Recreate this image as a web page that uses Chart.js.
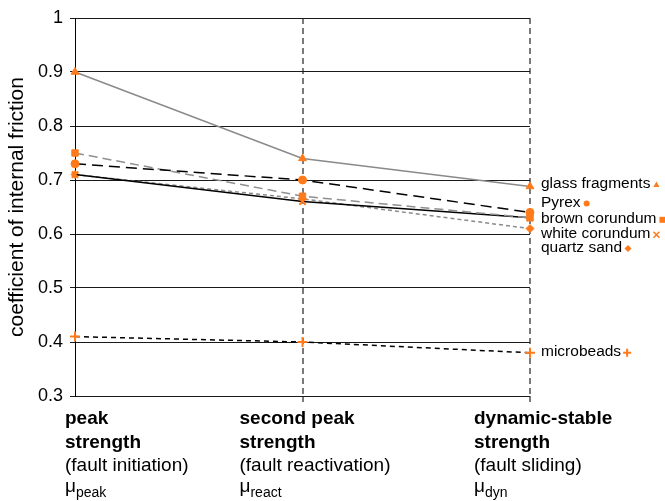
<!DOCTYPE html>
<html>
<head>
<meta charset="utf-8">
<script src="https://cdn.jsdelivr.net/npm/chart.js@4/dist/chart.umd.min.js"></script>
<style>
  html, body { margin: 0; padding: 0; background: #fff; }
  canvas { display: block; }
</style>
</head>
<body>
<canvas id="c" width="665" height="501"></canvas>
<script>
// Strength stages along the x axis
const categories = ['peak', 'react', 'dyn'];
const stageTitles = [['peak', 'strength'], ['second peak', 'strength'], ['dynamic-stable', 'strength']];
const stageNotes = ['(fault initiation)', '(fault reactivation)', '(fault sliding)'];
const stageSubscripts = ['peak', 'react', 'dyn'];

// Coefficient of internal friction per material
const glassFragments = [0.90, 0.74, 0.688];
const pyrex          = [0.73, 0.70, 0.64];
const brownCorundum  = [0.75, 0.67, 0.63];
const whiteCorundum  = [0.71, 0.66, 0.63];
const quartzSand     = [0.71, 0.665, 0.61];
const microbeads     = [0.41, 0.40, 0.38];

const yTicks = [0.3, 0.4, 0.5, 0.6, 0.7, 0.8, 0.9, 1];

const ORANGE = '#ff7a1a';
const FONT = '"Liberation Sans", Arial, sans-serif';

function series(label, data, color, dash, marker, radius, labelShift) {
  return {
    label, data,
    borderColor: color,
    borderWidth: 1.5,
    borderDash: dash,
    pointStyle: marker,
    pointRadius: radius,
    pointBackgroundColor: ORANGE,
    pointBorderColor: ORANGE,
    pointBorderWidth: marker === 'crossRot' || marker === 'cross' ? 2 : 1,
    fill: false,
    tension: 0,
    labelShift
  };
}

const datasets = [
  series('glass fragments', glassFragments, '#8a8a8a', [], 'triangle', 4.5, -3),
  series('Pyrex', pyrex, '#000000', [11, 6], 'circle', 4, -10),
  series('brown corundum', brownCorundum, '#8f8f8f', [9, 5], 'rect', 4.5, 1),
  series('white corundum', whiteCorundum, '#000000', [], 'crossRot', 4.5, 16),
  series('quartz sand', quartzSand, '#8a8a8a', [4, 3], 'rectRot', 4, 19),
  series('microbeads', microbeads, '#000000', [5, 4], 'cross', 5, -1)
];

// End-of-line labels with a small marker after the text
const endLabels = {
  id: 'endLabels',
  afterDatasetsDraw(chart) {
    const ctx = chart.ctx;
    const x = chart.chartArea.right + 11;
    const y = chart.scales.y;
    chart.data.datasets.forEach(ds => {
      ctx.save();
      ctx.font = '15.5px ' + FONT;
      ctx.textBaseline = 'middle';
      ctx.textAlign = 'left';
      const last = ds.data[ds.data.length - 1];
      const py = y.getPixelForValue(last) + ds.labelShift;
      ctx.fillStyle = '#000';
      ctx.fillText(ds.label, x, py);
      const w = ctx.measureText(ds.label).width;
      const mx = x + w + 6;
      const my = py + 1;
      ctx.fillStyle = ORANGE;
      ctx.strokeStyle = ORANGE;
      ctx.lineWidth = 1.6;
      const s = 3;
      ctx.beginPath();
      switch (ds.pointStyle) {
        case 'triangle':
          ctx.moveTo(mx, my - s); ctx.lineTo(mx + s, my + s * 0.8); ctx.lineTo(mx - s, my + s * 0.8); ctx.closePath(); ctx.fill(); break;
        case 'circle':
          ctx.arc(mx, my, s, 0, Math.PI * 2); ctx.fill(); break;
        case 'rect':
          ctx.rect(mx - s, my - s, 2 * s, 2 * s); ctx.fill(); break;
        case 'crossRot':
          ctx.moveTo(mx - s, my - s); ctx.lineTo(mx + s, my + s); ctx.moveTo(mx + s, my - s); ctx.lineTo(mx - s, my + s); ctx.stroke(); break;
        case 'rectRot':
          ctx.moveTo(mx, my - s - 0.5); ctx.lineTo(mx + s + 0.5, my); ctx.lineTo(mx, my + s + 0.5); ctx.lineTo(mx - s - 0.5, my); ctx.closePath(); ctx.fill(); break;
        case 'cross':
          ctx.lineWidth = 2;
          ctx.moveTo(mx - s - 1, my); ctx.lineTo(mx + s + 1, my); ctx.moveTo(mx, my - s - 1); ctx.lineTo(mx, my + s + 1); ctx.stroke(); break;
      }
      ctx.restore();
    });
  }
};

// Stage captions under the x axis: bold title, note, and μ with subscript
const stageLabels = {
  id: 'stageLabels',
  afterDraw(chart) {
    const ctx = chart.ctx;
    const xs = chart.scales.x;
    const shifts = [-10, -63, -56];
    const base = chart.chartArea.bottom;
    ctx.save();
    ctx.fillStyle = '#000';
    ctx.textAlign = 'left';
    ctx.textBaseline = 'alphabetic';
    categories.forEach((c, i) => {
      const x = xs.getPixelForValue(i) + shifts[i];
      ctx.font = 'bold 19px ' + FONT;
      ctx.fillText(stageTitles[i][0], x, base + 28);
      ctx.fillText(stageTitles[i][1], x, base + 52);
      ctx.font = '19px ' + FONT;
      ctx.fillText(stageNotes[i], x, base + 75);
      ctx.fillText('\u03bc', x, base + 96);
      const mw = ctx.measureText('\u03bc').width;
      ctx.font = '14px ' + FONT;
      ctx.fillText(stageSubscripts[i], x + mw, base + 101);
    });
    ctx.restore();
  }
};

new Chart(document.getElementById('c'), {
  type: 'line',
  data: { labels: categories, datasets },
  options: {
    responsive: false,
    animation: false,
    layout: { padding: { top: 18, right: 135, left: 0, bottom: 0 } },
    plugins: {
      legend: { display: false },
      tooltip: { enabled: false }
    },
    scales: {
      x: {
        type: 'category',
        offset: false,
        ticks: { display: false },
        grid: {
          color: ctx => ctx.index === 0 ? 'rgba(0,0,0,0)' : '#7a7a7a',
          lineWidth: 2,
          drawTicks: true,
          tickLength: 6,
          tickBorderDash: [6, 4]
        },
        border: { display: false, dash: [6, 4] },
        afterFit: s => { s.height = 105; }
      },
      y: {
        min: 0.3,
        max: 1,
        afterBuildTicks: s => { s.ticks = yTicks.map(v => ({ value: v })); },
        ticks: {
          color: '#000',
          font: { family: FONT, size: 18 },
          padding: 7,
          callback: v => String(+Number(v).toFixed(1))
        },
        grid: {
          color: '#1a1a1a',
          lineWidth: 1,
          tickLength: 5
        },
        border: { display: true, color: '#000', width: 1 },
        title: {
          display: true,
          text: 'coefficient of internal friction',
          color: '#000',
          font: { family: FONT, size: 21 },
          padding: { top: 5, bottom: 0 }
        },
        afterFit: s => { s.width = 75; }
      }
    }
  },
  plugins: [endLabels, stageLabels]
});
</script>
</body>
</html>
